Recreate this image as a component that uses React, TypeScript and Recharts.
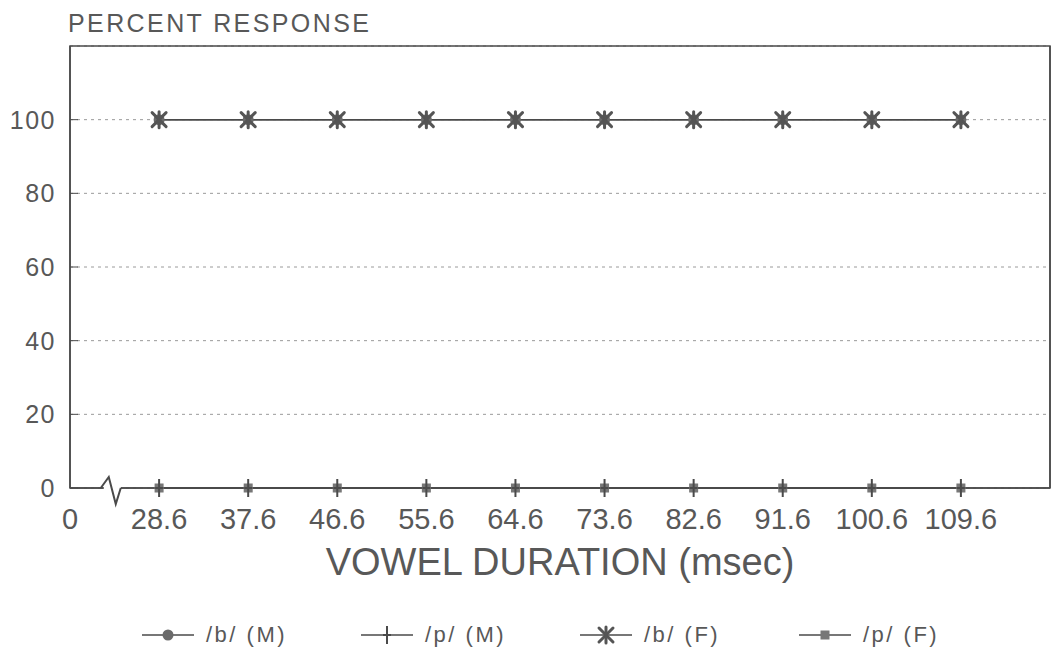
import React from 'react';
import {
  LineChart,
  Line,
  XAxis,
  YAxis,
  CartesianGrid,
  Legend,
  ReferenceArea,
  ReferenceDot,
} from 'recharts';

// tick labels along the bottom; slot 0 is the origin, the rest are stimuli
const durationLabels = ['0', '28.6', '37.6', '46.6', '55.6', '64.6', '73.6', '82.6', '91.6', '100.6', '109.6'];
const durations = [28.6, 37.6, 46.6, 55.6, 64.6, 73.6, 82.6, 91.6, 100.6, 109.6];

// percent /b/ or /p/ responses per stimulus
const bMale = [100, 100, 100, 100, 100, 100, 100, 100, 100, 100];
const pMale = [0, 0, 0, 0, 0, 0, 0, 0, 0, 0];
const bFemale = [100, 100, 100, 100, 100, 100, 100, 100, 100, 100];
const pFemale = [0, 0, 0, 0, 0, 0, 0, 0, 0, 0];

const seriesNames = ['/b/ (M)', '/p/ (M)', '/b/ (F)', '/p/ (F)'];
const yTicks = [0, 20, 40, 60, 80, 100];

const data = durations.map((d, i) => ({
  pos: durationLabels.indexOf(d.toFixed(1)),
  duration: d,
  bM: bMale[i],
  pM: pMale[i],
  bF: bFemale[i],
  pF: pFemale[i],
}));

const INK = '#4a4a4a';
const TEXT = '#585858';
const FONT = '"Liberation Sans", Arial, Helvetica, sans-serif';

type Kind = 'circle' | 'plus' | 'star' | 'square';

const Marker = ({ kind, cx, cy }: { kind: Kind; cx: number; cy: number }) => {
  if (cx == null || cy == null) return null;
  switch (kind) {
    case 'circle':
      return <circle cx={cx} cy={cy} r={5.5} fill="#6a6a6a" />;
    case 'plus':
      return (
        <g stroke={INK} strokeWidth={2}>
          <line x1={cx} y1={cy - 9} x2={cx} y2={cy + 9} />
          <line x1={cx - 4} y1={cy} x2={cx + 4} y2={cy} />
        </g>
      );
    case 'star':
      return (
        <g stroke="#555" strokeWidth={3} strokeLinecap="round">
          <line x1={cx - 7} y1={cy - 7} x2={cx + 7} y2={cy + 7} />
          <line x1={cx - 7} y1={cy + 7} x2={cx + 7} y2={cy - 7} />
          <line x1={cx} y1={cy - 8} x2={cx} y2={cy + 8} />
        </g>
      );
    default:
      return <rect x={cx - 4.5} y={cy - 4.5} width={9} height={9} fill="#777" />;
  }
};

const dotFor = (kind: Kind) => (p: any) => (
  <Marker key={`${kind}-${p.index}`} kind={kind} cx={p.cx} cy={p.cy} />
);

const kinds: Kind[] = ['circle', 'plus', 'star', 'square'];

const LegendBox = () => (
  <div style={{ display: 'flex', paddingLeft: 134, fontFamily: FONT }}>
    {seriesNames.map((name, i) => (
      <div key={name} style={{ width: 219, display: 'flex', alignItems: 'center', height: 40 }}>
        <svg width={52} height={24}>
          <line x1={0} y1={12} x2={52} y2={12} stroke={INK} strokeWidth={1.5} />
          <Marker kind={kinds[i]} cx={26} cy={12} />
        </svg>
        <span style={{ marginLeft: 12, fontSize: 22, color: TEXT, letterSpacing: 2.5 }}>{name}</span>
      </div>
    ))}
  </div>
);

// axis break drawn across the baseline between 0 and the first stimulus
const AxisBreak = (p: any) => (
  <g>
    <line x1={p.cx - 9} y1={p.cy} x2={p.cx + 8} y2={p.cy} stroke="#fff" strokeWidth={4} />
    <path
      d={`M${p.cx - 12},${p.cy} L${p.cx - 4},${p.cy - 11} L${p.cx + 3},${p.cy + 16} L${p.cx + 8},${p.cy}`}
      fill="none"
      stroke={INK}
      strokeWidth={2}
    />
  </g>
);

const App = () => (
  <div style={{ fontFamily: FONT }}>
    <LineChart
      width={1043}
      height={654}
      data={data}
      margin={{ top: 38, right: 0, bottom: 7, left: 0 }}
    >
      <CartesianGrid vertical={false} stroke="#9a9a9a" strokeDasharray="3 4" />
      <ReferenceArea
        x1={0}
        x2={11}
        y1={0}
        y2={120}
        fill="none"
        stroke={INK}
        strokeWidth={1.5}
        ifOverflow="visible"
      />
      <XAxis
        dataKey="pos"
        type="number"
        domain={[0, 11]}
        ticks={[0, 1, 2, 3, 4, 5, 6, 7, 8, 9, 10]}
        tickFormatter={(v: number) => durationLabels[v]}
        interval={0}
        height={127}
        tickLine={false}
        tickSize={0}
        tickMargin={20}
        axisLine={{ stroke: INK, strokeWidth: 1.5 }}
        tick={{ fontSize: 29, fill: TEXT }}
        label={{
          content: ({ viewBox }: any) => (
            <text
              x={viewBox.x + viewBox.width / 2}
              y={viewBox.y + 87}
              textAnchor="middle"
              fontSize={38}
              fill={TEXT}
            >
              VOWEL DURATION (msec)
            </text>
          ),
        }}
      />
      <YAxis
        domain={[0, 120]}
        ticks={yTicks}
        width={62}
        tickSize={-8}
        tickMargin={22}
        tickLine={{ stroke: INK }}
        axisLine={{ stroke: INK, strokeWidth: 1.5 }}
        tick={{ fontSize: 25, fill: TEXT, letterSpacing: 1.5 }}
        label={{
          content: ({ viewBox }: any) => (
            <text
              x={viewBox.x + viewBox.width - 2}
              y={viewBox.y - 14}
              fontSize={25}
              letterSpacing={2.4}
              fill={TEXT}
            >
              PERCENT RESPONSE
            </text>
          ),
        }}
      />
      {/* right-hand edge of the frame */}
      <YAxis
        yAxisId="frame"
        orientation="right"
        domain={[0, 120]}
        width={1}
        tick={false}
        tickLine={false}
        axisLine={{ stroke: INK, strokeWidth: 1.5 }}
      />
      <ReferenceDot x={0.48} y={0} r={0} shape={AxisBreak} />
      <Line dataKey="pF" name={seriesNames[3]} stroke={INK} strokeWidth={1.5} dot={dotFor('square')} isAnimationActive={false} />
      <Line dataKey="pM" name={seriesNames[1]} stroke={INK} strokeWidth={1.5} dot={dotFor('plus')} isAnimationActive={false} />
      <Line dataKey="bM" name={seriesNames[0]} stroke={INK} strokeWidth={1.5} dot={dotFor('circle')} isAnimationActive={false} />
      <Line dataKey="bF" name={seriesNames[2]} stroke={INK} strokeWidth={1.5} dot={dotFor('star')} isAnimationActive={false} />
      <Legend verticalAlign="bottom" align="left" wrapperStyle={{ height: 40 }} content={LegendBox} />
    </LineChart>
  </div>
);

export default App;
